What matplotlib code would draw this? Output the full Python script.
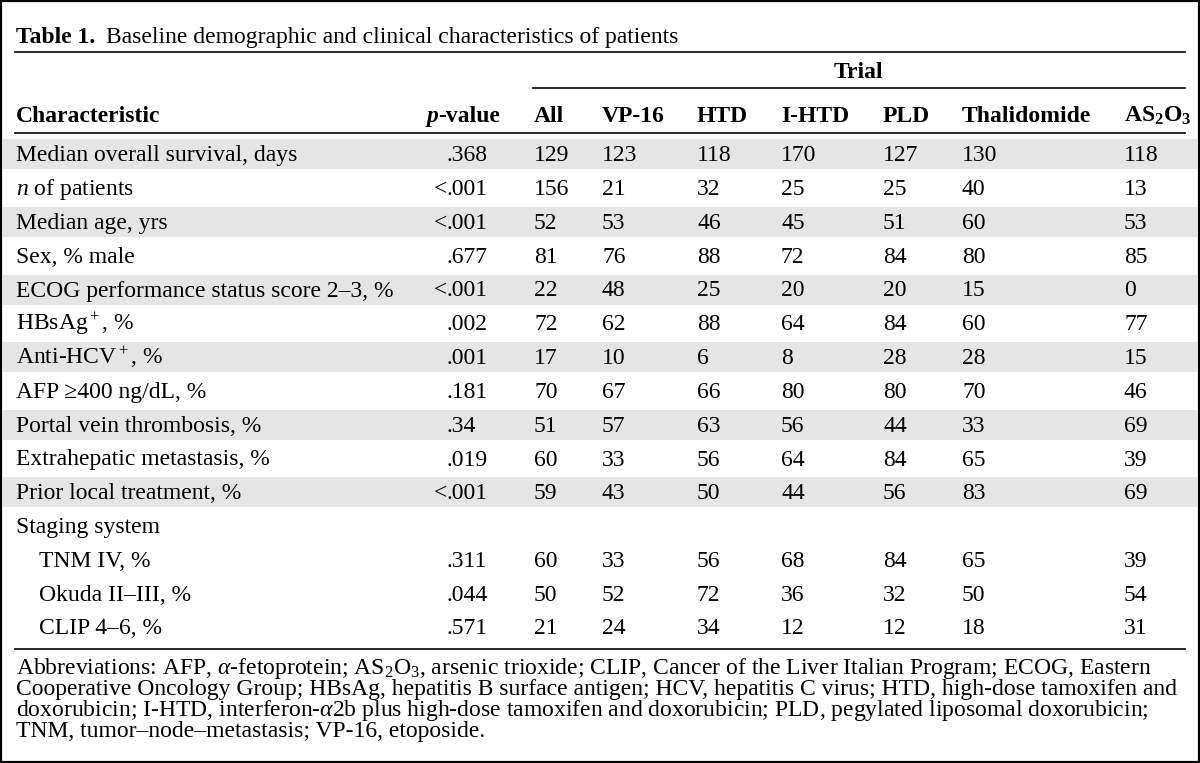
import matplotlib.pyplot as plt
from matplotlib.patches import Rectangle

plt.rcParams['font.family'] = ['Liberation Serif', 'DejaVu Serif']
plt.rcParams['mathtext.fontset'] = 'custom'
plt.rcParams['mathtext.rm'] = 'Liberation Serif'
plt.rcParams['mathtext.it'] = 'Liberation Serif:italic'
plt.rcParams['mathtext.bf'] = 'Liberation Serif:bold'

# data
trials = ['All', 'VP-16', 'HTD', 'I-HTD', 'PLD', 'Thalidomide', r'AS$_\mathbf{2}$O$_\mathbf{3}$']
characteristics = [
    'Median overall survival, days',
    '$n$ of patients',
    'Median age, yrs',
    'Sex, % male',
    'ECOG performance status score 2–3, %',
    'HBsAg$^+$, %',
    'Anti-HCV$^+$, %',
    'AFP ≥400 ng/dL, %',
    'Portal vein thrombosis, %',
    'Extrahepatic metastasis, %',
    'Prior local treatment, %',
    'Staging system',
    'TNM IV, %',
    'Okuda II–III, %',
    'CLIP 4–6, %',
]
indented = [12, 13, 14]
p_values = ['.368', '<.001', '<.001', '.677', '<.001', '.002', '.001', '.181',
            '.34', '.019', '<.001', '', '.311', '.044', '.571']
values = [
    [129, 123, 118, 170, 127, 130, 118],
    [156, 21, 32, 25, 25, 40, 13],
    [52, 53, 46, 45, 51, 60, 53],
    [81, 76, 88, 72, 84, 80, 85],
    [22, 48, 25, 20, 20, 15, 0],
    [72, 62, 88, 64, 84, 60, 77],
    [17, 10, 6, 8, 28, 28, 15],
    [70, 67, 66, 80, 80, 70, 46],
    [51, 57, 63, 56, 44, 33, 69],
    [60, 33, 56, 64, 84, 65, 39],
    [59, 43, 50, 44, 56, 83, 69],
    None,
    [60, 33, 56, 68, 84, 65, 39],
    [50, 52, 72, 36, 32, 50, 54],
    [21, 24, 34, 12, 12, 18, 31],
]
shaded = [0, 2, 4, 6, 8, 10]
footnote = [
    r'Abbreviations: AFP, $\alpha$-fetoprotein; AS$_2$O$_3$, arsenic trioxide; CLIP, Cancer of the Liver Italian Program; ECOG, Eastern',
    'Cooperative Oncology Group; HBsAg, hepatitis B surface antigen; HCV, hepatitis C virus; HTD, high-dose tamoxifen and',
    r'doxorubicin; I-HTD, interferon-$\alpha$2b plus high-dose tamoxifen and doxorubicin; PLD, pegylated liposomal doxorubicin;',
    'TNM, tumor–node–metastasis; VP-16, etoposide.',
]

# layout (pixels, y downwards)
W, H = 1200, 763
col_x = [534, 602, 697, 781, 883, 962, 1124]
dot_x = 447
row_c0 = 154.3
row_h = 33.8
fs = 17
x0, x1 = 15, 1185
lw = 1.2

fig = plt.figure(figsize=(12, 7.63), dpi=100)
ax = fig.add_axes([0, 0, 1, 1])
ax.set_xlim(0, W)
ax.set_ylim(H, 0)
ax.axis('off')

ax.add_patch(Rectangle((1, 1), W - 2, H - 2, fill=False, lw=1.6, ec='black'))

# title
t1 = ax.text(16, 43, 'Table 1.', fontsize=fs, fontweight='bold', va='baseline')
ax.annotate('Baseline demographic and clinical characteristics of patients',
            xy=(1, 0), xycoords=t1, xytext=(11, 0), textcoords='offset pixels',
            fontsize=fs, va='bottom', ha='left')
ax.plot([x0, x1], [52, 52], color='black', lw=lw)

# header
ax.text(859, 78, 'Trial', fontsize=fs, fontweight='bold', ha='center', va='baseline')
ax.plot([533, x1], [88, 88], color='black', lw=lw)
ax.text(16, 122, 'Characteristic', fontsize=fs, fontweight='bold', va='baseline')
tv = ax.text(500, 122, '-value', fontsize=fs, fontweight='bold', va='baseline', ha='right')
ax.annotate('p', xy=(0, 0), xycoords=tv, fontsize=fs, fontweight='bold',
            fontstyle='italic', ha='right', va='bottom')
for x, name in zip(col_x, trials):
    ax.text(x, 122, name, fontsize=fs, fontweight='bold', va='baseline')
ax.plot([x0, x1], [133, 133], color='black', lw=lw)

# body
for i, (label, p, vals) in enumerate(zip(characteristics, p_values, values)):
    yc = row_c0 + i * row_h
    yb = yc + 7
    if i in shaded:
        ax.add_patch(Rectangle((3, yc - 15), W - 6, 30, color='#e5e5e5', lw=0, zorder=0))
    ax.text(39 if i in indented else 16, yb, label, fontsize=fs, va='baseline')
    if p:
        dot = p.index('.')
        if dot:
            ax.text(dot_x, yb, p[:dot], fontsize=fs, va='baseline', ha='right')
        ax.text(dot_x, yb, p[dot:], fontsize=fs, va='baseline', ha='left')
    if vals:
        for x, v in zip(col_x, vals):
            ax.text(x, yb, str(v), fontsize=fs, va='baseline')

ax.plot([x0, x1], [649, 649], color='black', lw=lw)

# footnote as one block of text
ax.text(16, 656, '\n'.join(footnote), fontsize=fs, va='top', linespacing=0.89)

fig.savefig('out.png', dpi=100)
